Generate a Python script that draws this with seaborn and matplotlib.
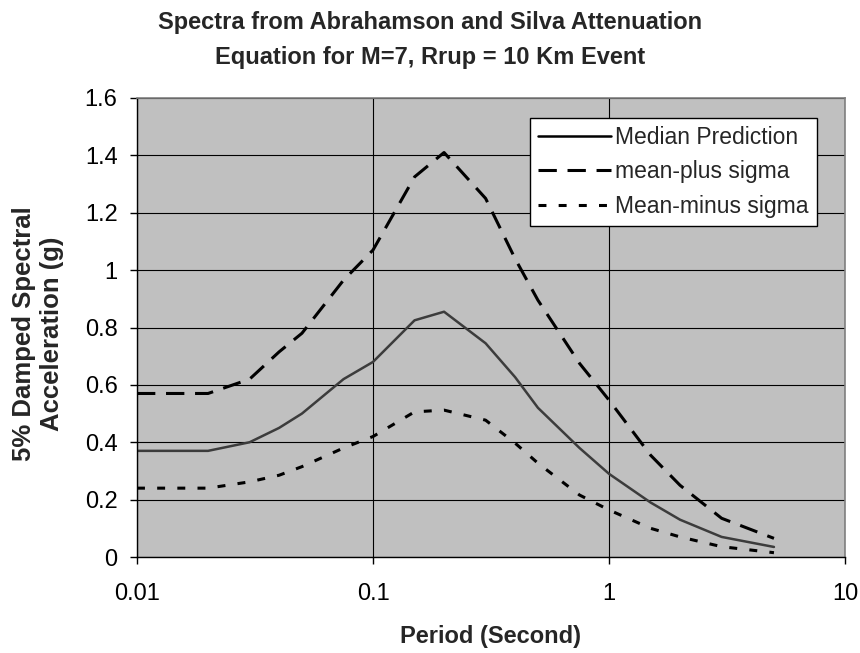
import numpy as np
import pandas as pd
import matplotlib.pyplot as plt
import seaborn as sns
from matplotlib.ticker import FixedLocator, FixedFormatter

sns.set_style('white')
plt.rcParams['font.family'] = ['Liberation Sans', 'DejaVu Sans']

# periods (s) and spectral accelerations (g)
period = [0.01, 0.02, 0.03, 0.04, 0.05, 0.075, 0.1, 0.15, 0.2, 0.3, 0.4, 0.5, 0.75, 1, 1.5, 2, 3, 5]
median = [0.37, 0.37, 0.40, 0.45, 0.50, 0.62, 0.68, 0.825, 0.855, 0.745, 0.627, 0.52, 0.38, 0.29, 0.19, 0.13, 0.07, 0.035]
plus_sigma = [0.57, 0.57, 0.62, 0.715, 0.78, 0.965, 1.07, 1.325, 1.41, 1.25, 1.04, 0.895, 0.675, 0.547, 0.355, 0.25, 0.135, 0.065]
minus_sigma = [0.24, 0.24, 0.262, 0.285, 0.315, 0.38, 0.42, 0.506, 0.512, 0.477, 0.397, 0.327, 0.216, 0.164, 0.10, 0.07, 0.036, 0.015]

df = pd.DataFrame({'period': period, 'median': median,
                   'plus': plus_sigma, 'minus': minus_sigma})

fig = plt.figure(figsize=(8.6, 6.53), dpi=100)
ax = fig.add_axes([137/860, 1 - 557/653, (845-137)/860, (557-98)/653])
ax.set_facecolor('#c0c0c0')

sns.lineplot(data=df, x='period', y='median', ax=ax, color='#3c3c3c', lw=1.8,
             label='Median Prediction')
sns.lineplot(data=df, x='period', y='plus', ax=ax, color='black', lw=2.2,
             label='mean-plus sigma')
ax.lines[-1].set_dashes([6, 3.5])
sns.lineplot(data=df, x='period', y='minus', ax=ax, color='black', lw=2.2,
             label='Mean-minus sigma')
ax.lines[-1].set_dashes([2.6, 4])

ax.set_xscale('log')
ax.set_xlim(0.01, 10)
ax.set_ylim(0, 1.6)
ax.xaxis.set_major_locator(FixedLocator([0.01, 0.1, 1, 10]))
ax.xaxis.set_major_formatter(FixedFormatter(['0.01', '0.1', '1', '10']))
ax.xaxis.set_minor_locator(FixedLocator([]))
ax.set_yticks(np.arange(0, 1.61, 0.2))
ax.set_yticklabels(['0', '0.2', '0.4', '0.6', '0.8', '1', '1.2', '1.4', '1.6'])
ax.grid(True, color='black', lw=0.8)
ax.tick_params(axis='both', labelsize=17, direction='out', length=5, width=1,
               colors='black', left=True, bottom=True)
ax.tick_params(axis='x', pad=14)
ax.tick_params(axis='y', pad=9)

for s in ['top', 'right']:
    ax.spines[s].set_color('#808080')
    ax.spines[s].set_linewidth(1.2)
for s in ['left', 'bottom']:
    ax.spines[s].set_color('black')
    ax.spines[s].set_linewidth(1)

ax.set_xlabel('Period (Second)', fontsize=17, fontweight='bold')
ax.xaxis.set_label_coords(0.5, -0.148)
ax.set_ylabel('')
ax.text(-0.14, 0.487, '5% Damped Spectral\nAcceleration (g)', transform=ax.transAxes,
        rotation=90, ha='center', va='center', multialignment='center',
        fontsize=18.5, fontweight='bold')
fig.text(0.5, 1 - 40/653,
         'Spectra from Abrahamson and Silva Attenuation\nEquation for M=7, Rrup = 10 Km Event',
         ha='center', va='center', fontsize=17, fontweight='bold', linespacing=1.65)

leg = ax.legend(loc='upper right', bbox_to_anchor=((817-137)/708, (557-118)/459),
                borderaxespad=0, fontsize=16.5, frameon=True, fancybox=False,
                framealpha=1, edgecolor='black', handlelength=3.2,
                handletextpad=0.2, borderpad=0.35, labelspacing=0.5)
leg.get_frame().set_linewidth(1)
for h in leg.get_lines():
    h.set_color('black')

fig.savefig('out.png', dpi=100)
